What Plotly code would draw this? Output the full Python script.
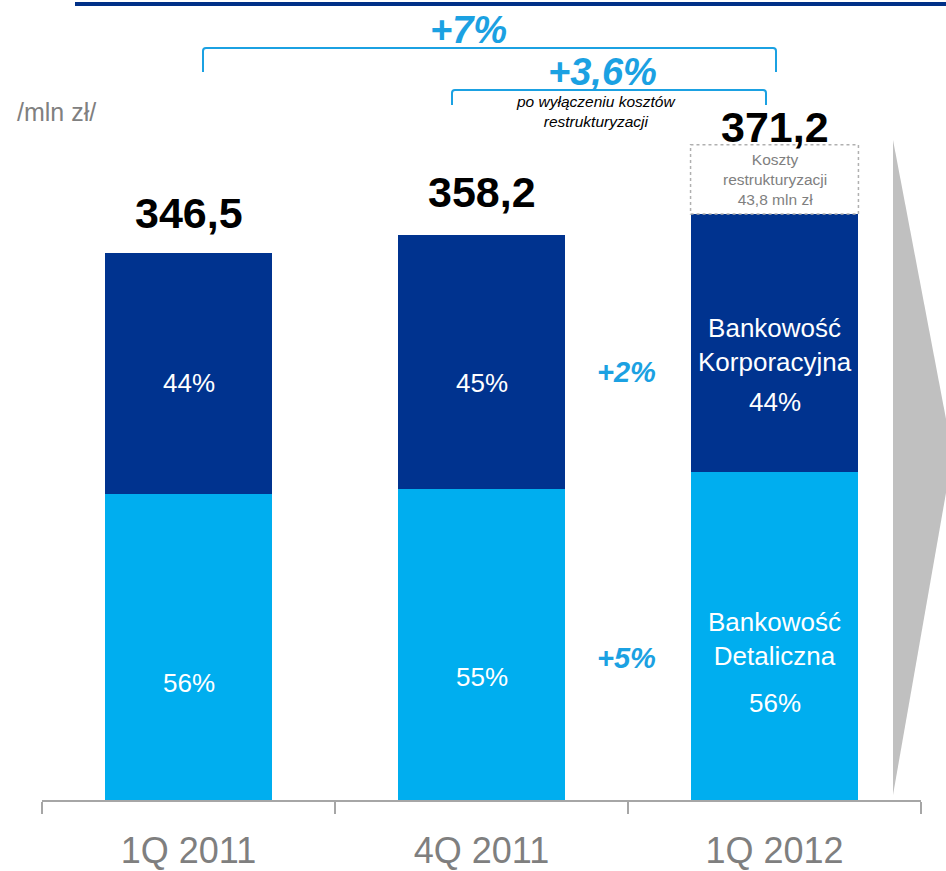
import plotly.graph_objects as go

categories = ["1Q 2011", "4Q 2011", "1Q 2012"]
retail = [194.0, 197.0, 207.9]
corporate = [152.5, 161.2, 163.3]
totals = [346.5, 358.2, 371.2]
retail_pct = ["56%", "55%", "56%"]
corporate_pct = ["44%", "45%", "44%"]
restructuring_cost = 43.8

DARK = "#00338F"
LIGHT = "#00AEEF"
ACCENT = "#1BA1E2"
FONT = "Liberation Sans"

W, H = 946, 871
L, R, T, B = 42, 25, 0, 71
PW, PH = W - L - R, H - T - B


def px(x):
    return (x - L) / PW


def py(y):
    return (H - B - y) / PH


def label(x, y, text, size, color, xref="paper", xanchor="center"):
    return dict(x=x, xref=xref, y=py(y), yref="paper", text=text, showarrow=False,
                xanchor=xanchor, yanchor="middle", font=dict(size=size, color=color, family=FONT))


fig = go.Figure()
fig.add_bar(x=categories, y=retail, marker=dict(color=LIGHT, line=dict(width=0)), name="Bankowość Detaliczna")
fig.add_bar(x=categories, y=corporate, marker=dict(color=DARK, line=dict(width=0)), name="Bankowość Korporacyjna")

ann = []
tot_y = [213, 192, 127]
for i, t in enumerate(totals):
    ann.append(label(categories[i], tot_y[i], f"<b>{t:.1f}</b>".replace(".", ","), 43, "black", xref="x"))
corp_y = [383, 383, 402]
ret_y = [683, 677, 703]
for i in range(3):
    ann.append(label(categories[i], corp_y[i], corporate_pct[i], 26, "white", xref="x"))
    ann.append(label(categories[i], ret_y[i], retail_pct[i], 26, "white", xref="x"))
ann.append(label(categories[2], 345, "Bankowość<br>Korporacyjna", 26, "white", xref="x"))
ann.append(label(categories[2], 639, "Bankowość<br>Detaliczna", 26, "white", xref="x"))
for txt, x, y, s in [("+2%", 626, 372, 29), ("+5%", 626, 658, 29), ("+7%", 468, 30, 38), ("+3,6%", 602, 72, 38)]:
    ann.append(label(px(x), y, f"<b><i>{txt}</i></b>", s, ACCENT))
ann.append(label(px(596), 111, "<i>po wyłączeniu kosztów<br>restrukturyzacji</i>", 15.5, "black"))
ann.append(label(px(15), 112, "/mln zł/", 25, "#808080", xanchor="left"))
ann.append(dict(x=categories[2], xref="x", y=totals[2] + restructuring_cost / 2, yref="y",
                text="Koszty<br>restrukturyzacji<br>43,8 mln zł", showarrow=False,
                xanchor="center", yanchor="middle",
                font=dict(size=15.5, color="#7F7F7F", family=FONT)))

shapes = []
hw = 0.573 / 2
shapes.append(dict(type="rect", xref="x", yref="y", x0=2 - hw, x1=2 + hw, y0=totals[2],
                   y1=totals[2] + restructuring_cost, line=dict(color="#B0B0B0", width=1.5, dash="dot"),
                   fillcolor="rgba(0,0,0,0)"))
shapes.append(dict(type="line", xref="paper", yref="paper", x0=px(75), x1=px(946), y0=py(4), y1=py(4),
                   line=dict(color="#003087", width=4)))


def bracket(x0, x1, ytop, ybot):
    path = (f"M {px(x0)},{py(ybot)} L {px(x0)},{py(ytop + 3)} Q {px(x0)},{py(ytop)} {px(x0 + 3)},{py(ytop)} "
            f"L {px(x1 - 3)},{py(ytop)} Q {px(x1)},{py(ytop)} {px(x1)},{py(ytop + 3)} L {px(x1)},{py(ybot)}")
    return dict(type="path", xref="paper", yref="paper", path=path, line=dict(color=ACCENT, width=2))


shapes.append(bracket(203, 776, 48, 72))
shapes.append(bracket(452, 766, 90, 105))
shapes.append(dict(type="path", xref="paper", yref="paper",
                   path=f"M {px(893)},{py(140)} L {px(950)},{py(440)} L {px(950)},{py(470)} L {px(893)},{py(795)} Z",
                   fillcolor="#C0C0C0", line=dict(width=0)))

fig.update_layout(
    barmode="stack", bargap=0.427, width=W, height=H,
    margin=dict(l=L, r=R, t=T, b=B, autoexpand=False),
    plot_bgcolor="white", paper_bgcolor="white", showlegend=False,
    annotations=ann, shapes=shapes,
    font=dict(family=FONT),
)
fig.update_xaxes(showline=True, linecolor="#A6A6A6", linewidth=1.5, ticks="outside", tickson="boundaries",
                 ticklen=12, tickcolor="#A6A6A6", tickwidth=1.5, automargin=False,
                 tickfont=dict(size=36, color="#7F7F7F", family=FONT), ticklabelstandoff=18,
                 range=[-0.5, 2.5], showgrid=False)
fig.update_yaxes(visible=False, range=[0, PH / (547 / 346.5)], showgrid=False, automargin=False)

fig.write_html("out.html", post_script="document.body.style.margin='0';",
               config={"displayModeBar": False})
